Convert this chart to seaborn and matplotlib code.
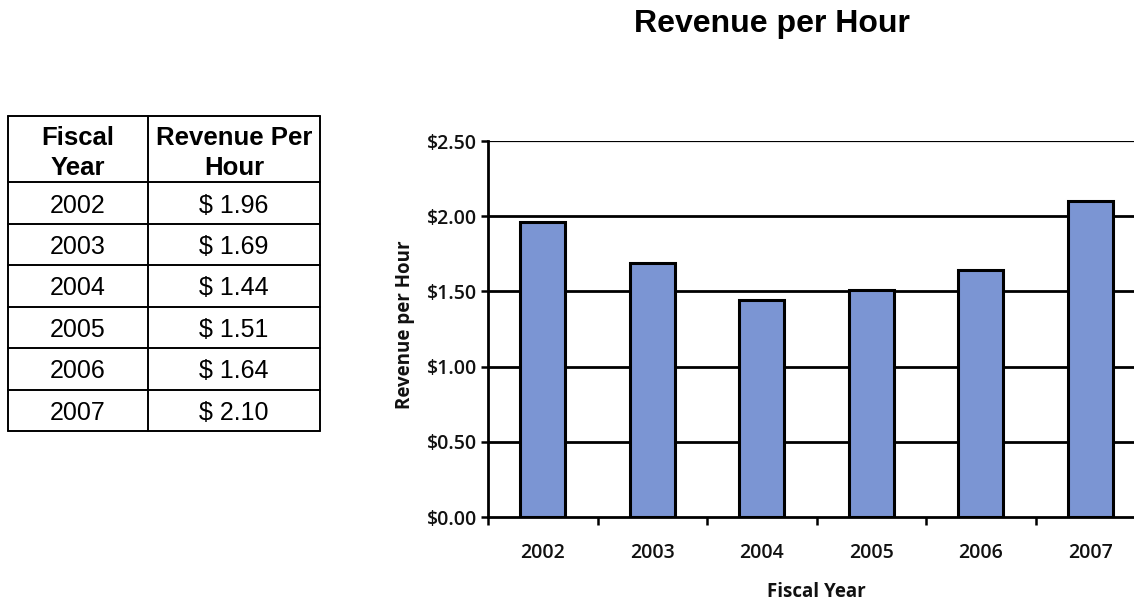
import matplotlib
matplotlib.use("Agg")
import matplotlib.pyplot as plt
import seaborn as sns
import pandas as pd
from matplotlib.ticker import FixedLocator, FuncFormatter

# Revenue per hour by fiscal year
years = ["2002", "2003", "2004", "2005", "2006", "2007"]
revenue = [1.96, 1.69, 1.44, 1.51, 1.64, 2.10]
table_headers = ["Fiscal\nYear", "Revenue Per\nHour"]
y_ticks = [0.0, 0.5, 1.0, 1.5, 2.0, 2.5]

df = pd.DataFrame({"Fiscal Year": years, "Revenue per Hour": revenue})

sns.set_theme(style="white")
plt.rcParams["font.family"] = ["Liberation Sans", "DejaVu Sans"]

W, H = 1134, 602
fig = plt.figure(figsize=(W / 100, H / 100), dpi=100)
fig.patch.set_facecolor("white")

def px_axes(left, top, right, bottom):
    return fig.add_axes([left / W, 1 - bottom / H, (right - left) / W, (bottom - top) / H])

# ---- bar chart ----
ax = px_axes(488, 141, 1145, 517)
bar_color = "#7b95d3"
sns.barplot(data=df, x="Fiscal Year", y="Revenue per Hour", color=bar_color,
            width=0.41, edgecolor="black", linewidth=2.2, saturation=1, ax=ax, zorder=3)
ax.set_ylim(0, 2.5)
ax.set_xlim(-0.5, len(years) - 0.5)
ax.yaxis.set_major_locator(FixedLocator(y_ticks))
ax.yaxis.set_major_formatter(FuncFormatter(lambda v, _: f"${v:.2f}"))
for v in y_ticks[1:]:
    ax.axhline(v, color="black", linewidth=2.0 if v < 2.5 else 1.6, zorder=1)

for side in ["top", "right"]:
    ax.spines[side].set_visible(False)
for side in ["left", "bottom"]:
    ax.spines[side].set_visible(True)
    ax.spines[side].set_color("black")
    ax.spines[side].set_linewidth(2.0)

label_family = ["Open Sans", "DejaVu Sans"]
ax.tick_params(axis="y", which="major", left=True, direction="out", length=5, width=1.8,
               color="black", pad=3)
ax.set_xticks([i + 0.5 for i in range(-1, len(years))], minor=True)
ax.tick_params(axis="x", which="major", bottom=True, length=0, pad=19)
ax.tick_params(axis="x", which="minor", bottom=True, direction="out", length=6, width=1.8,
               color="black")
for lab in ax.get_yticklabels() + ax.get_xticklabels():
    lab.set_fontfamily(label_family)
    lab.set_fontsize(14)
    lab.set_fontweight("semibold")
    lab.set_color("#111111")

ax.set_xlabel("Fiscal Year", fontfamily=label_family, fontsize=13.5,
              fontweight="bold", color="#111111", va="center")
ax.set_ylabel("Revenue per Hour", fontfamily=label_family, fontsize=13.5,
              fontweight="bold", color="#111111", va="center")
ax.xaxis.set_label_coords((816 - 488) / (1145 - 488), -(592 - 517) / (517 - 141))
ax.yaxis.set_label_coords(-(488 - 405) / (1145 - 488), (517 - 325) / (517 - 141))

fig.text(772 / W, 1 - 24 / H, "Revenue per Hour", ha="center", va="center",
         fontsize=23, fontweight="bold", color="black")

# ---- data table ----
tax = px_axes(8, 116, 320, 431)
header_h = 1.6
n = len(years)
tax.set_xlim(0, 312)
tax.set_ylim(header_h + n, 0)
tax.axis("off")
col_x = [0, 140, 312]
lw = 1.4
for x in col_x:
    tax.plot([x, x], [0, header_h + n], color="black", linewidth=lw, clip_on=False)
for r in range(n + 2):
    y = 0 if r == 0 else header_h + r - 1
    tax.plot([0, 312], [y, y], color="black", linewidth=lw, clip_on=False)
for c, hdr in enumerate(table_headers):
    tax.text((col_x[c] + col_x[c + 1]) / 2, header_h / 2 + 0.1, hdr, ha="center", va="center",
             fontsize=18.5, fontweight="bold", color="black", linespacing=1.3)
for i, (yr, val) in enumerate(zip(years, revenue)):
    yc = header_h + i + 0.56
    tax.text((col_x[0] + col_x[1]) / 2, yc, yr, ha="center", va="center",
             fontsize=18, color="black")
    tax.text((col_x[1] + col_x[2]) / 2, yc, f"$ {val:.2f}", ha="center", va="center",
             fontsize=18, color="black")

fig.savefig("out.png", dpi=100, facecolor="white")
